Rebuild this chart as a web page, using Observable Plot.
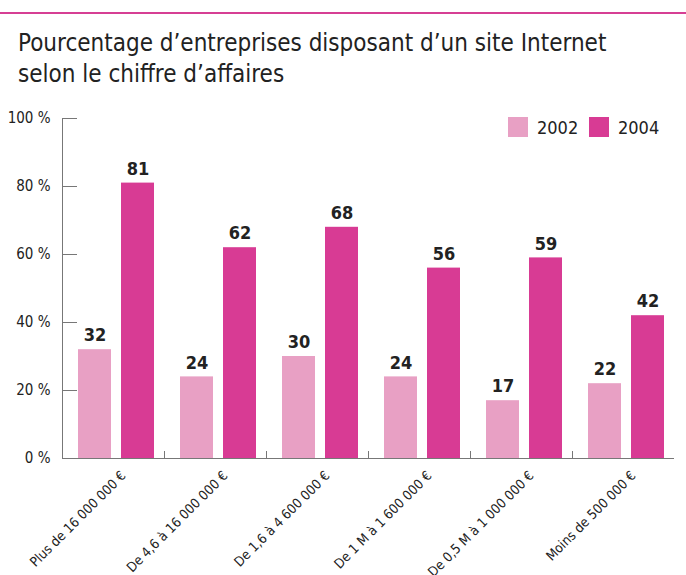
<!DOCTYPE html>
<html>
<head>
<meta charset="utf-8">
<script src="https://cdn.jsdelivr.net/npm/d3@7"></script>
<script src="https://cdn.jsdelivr.net/npm/@observablehq/plot@0.6"></script>
<style>
  html, body { margin: 0; padding: 0; background: #fff; }
  body { width: 686px; height: 575px; position: relative; overflow: hidden;
         font-family: "DejaVu Sans", sans-serif; font-stretch: condensed; color: #222; }
  #topline { position: absolute; left: 0; top: 12px; width: 686px; height: 2px; background: #d63f94; }
  #title { position: absolute; left: 18px; top: 28px; font-size: 24px; line-height: 31px; color: #222; white-space: nowrap; }
  #chart { position: absolute; left: 0; top: 100px; }
  #chart svg, #chart svg text { font-stretch: condensed; }
  .lg { position: absolute; top: 117px; font-size: 18px; color: #222; line-height: 21px; }
  .sw { position: absolute; top: 117px; width: 20px; height: 20px; }
</style>
</head>
<body>
<div id="topline"></div>
<div id="title">Pourcentage d’entreprises disposant d’un site Internet<br>selon le chiffre d’affaires</div>
<div id="chart"></div>
<div class="sw" style="left:508px;background:#e8a0c4"></div><div class="lg" id="lg0" style="left:537px"></div>
<div class="sw" style="left:589px;background:#d83b94"></div><div class="lg" id="lg1" style="left:618px"></div>
<script>
const categories = [
  "Plus de 16 000 000 €",
  "De 4,6 à 16 000 000 €",
  "De 1,6 à 4 600 000 €",
  "De 1 M à 1 600 000 €",
  "De 0,5 M à 1 000 000 €",
  "Moins de 500 000 €"
];
const years = ["2002", "2004"];
const values2002 = [32, 24, 30, 24, 17, 22];
const values2004 = [81, 62, 68, 56, 59, 42];
const colors = ["#e8a0c4", "#d83b94"];
const yTicks = [0, 20, 40, 60, 80, 100];

const data = [];
categories.forEach((c, i) => {
  data.push({cat: c, year: "2002", value: values2002[i]});
  data.push({cat: c, year: "2004", value: values2004[i]});
});

const font = '"DejaVu Sans", sans-serif';

const chart = Plot.plot({
  width: 686,
  height: 475,
  marginTop: 18,
  marginBottom: 117,
  marginLeft: 62,
  marginRight: 12,
  style: {fontFamily: font, color: "#222", background: "transparent", overflow: "visible"},
  fx: {domain: categories, padding: 0, label: null, axis: null},
  x: {domain: years, axis: null, paddingInner: 0.23, paddingOuter: 0.3, align: 0.63},
  y: {domain: [0, 100], axis: null, label: null},
  color: {domain: years, range: colors},
  marks: [
    Plot.barY(data, {fx: "cat", x: "year", y: "value", fill: "year"}),
    Plot.text(data, {fx: "cat", x: "year", y: "value", text: d => String(d.value), dy: -14,
      fontWeight: "bold", fontSize: 18, fill: "#222"}),
    Plot.axisY({ticks: yTicks, tickSize: 0, tickPadding: 12, tickFormat: d => d + " %",
      fontSize: 15, color: "#222", label: null, facetAnchor: "left"}),
    Plot.ruleY(yTicks, {y: d => d, stroke: "#777", insetRight: 87, facetAnchor: "left"}),
    Plot.axisFx({anchor: "bottom", tickRotate: -45, tickSize: 0, tickPadding: 15, dx: 10, fontSize: 13.5, label: null, color: "#222"}),
    Plot.ruleY([0], {stroke: "#777", strokeWidth: 1.2}),
    Plot.frame({anchor: "left", stroke: "#777", insetTop: 333}),
    Plot.frame({anchor: "left", stroke: "#777", facet: "super"})
  ]
});
document.getElementById("chart").appendChild(chart);

document.getElementById("lg0").textContent = years[0];
document.getElementById("lg1").textContent = years[1];
</script>
</body>
</html>
